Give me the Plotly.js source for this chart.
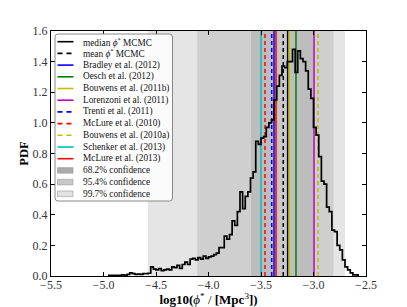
<!DOCTYPE html>
<html>
<head>
<meta charset="utf-8">
<script src="https://cdn.plot.ly/plotly-3.0.1.min.js"></script>
<style>
html,body{margin:0;padding:0;background:#fff;}
#chart{width:407px;height:307px;}
</style>
</head>
<body>
<div id="chart"></div>
<script>
// ---------------- DATA ----------------
// step histogram of log10(phi*) : first bin left edge and bin width
const histStart = -4.95;
const histBinWidth = 0.025;
const pdfValues = [
  0.005, 0.005, 0.005, 0.005, 0.005, 0.008, 0.005, 0.010,
  0.020, 0.015, 0.010, 0.012, 0.010, 0.015, 0.015, 0.018,
  0.060, 0.045, 0.040, 0.048, 0.035, 0.040, 0.045, 0.040,
  0.060, 0.055, 0.070, 0.050, 0.075, 0.090, 0.075, 0.110,
  0.115, 0.105, 0.120, 0.110, 0.130, 0.115, 0.125, 0.130,
  0.140, 0.150, 0.185, 0.185, 0.260, 0.240, 0.270, 0.360,
  0.330, 0.420, 0.550, 0.440, 0.520, 0.550, 0.640, 0.680,
  0.880, 0.860, 0.900, 0.910, 0.970, 1.000, 1.020, 1.150,
  1.240, 1.310, 1.370, 1.360, 1.400, 1.400, 1.480, 1.330,
  1.470, 1.420, 1.400, 1.340, 1.220, 1.160, 0.970, 0.920,
  0.780, 0.620, 0.600, 0.450, 0.420, 0.300, 0.290, 0.200,
  0.170, 0.105, 0.060, 0.040, 0.020, 0.008, 0.008
];

// reference values of log10(phi*)
const refNames = [
  'median <i>ϕ</i><sup>*</sup> MCMC', 'mean <i>ϕ</i><sup>*</sup> MCMC',
  'Bradley et al. (2012)', 'Oesch et al. (2012)', 'Bouwens et al. (2011b)',
  'Lorenzoni et al. (2011)', 'Trenti et al. (2011)', 'McLure et al. (2010)',
  'Bouwens et al. (2010a)', 'Schenker et al. (2013)', 'McLure et al. (2013)'
];
const refValues = [-3.246, -3.288, -3.376, -3.167, -3.231, -2.995, -3.398, -3.462, -2.957, -3.500, -3.357];
const refColors = ['#000000', '#000000', '#0000FF', '#008000', '#BFBF00', '#BF00BF', '#0000FF', '#FF0000', '#BFBF00', '#00BFBF', '#FF0000'];
const refDashed = [false, true, false, false, false, false, true, true, true, false, false];

// confidence intervals
const confNames = ['68.2% confidence', '95.4% confidence', '99.7% confidence'];
const confLow  = [-3.595, -4.107, -4.578];
const confHigh = [-3.000, -2.810, -2.700];
const confColors = ['#BDBDBD', '#CFCFCF', '#E5E5E5'];
const confLegendColors = ['#ABABAB', '#C9C9C9', '#E2E2E2'];
// lighter strip inside the 68.2% band
const innerLow = -3.341, innerHigh = -3.233;

// ---------------- BUILD ----------------
const SERIF = 'Liberation Serif, Times New Roman, serif';
const yMax = 1.6;
const traces = [];

function band(lo, hi, color, name) {
  return {
    type: 'scatter', mode: 'lines', name: name, showlegend: false,
    x: [lo, lo, hi, hi, lo], y: [0, yMax, yMax, 0, 0],
    fill: 'toself', fillcolor: color, line: {width: 0}, hoverinfo: 'skip'
  };
}
for (let i = confNames.length - 1; i >= 0; i--) {
  traces.push(band(confLow[i], confHigh[i], confColors[i], confNames[i]));
}
traces.push(band(innerLow, innerHigh, '#C8C8C8', 'inner'));

refValues.forEach((v, i) => {
  traces.push({
    type: 'scatter', mode: 'lines', name: refNames[i], showlegend: false,
    x: [v, v], y: [0, yMax],
    line: {color: refColors[i], width: 1.5, dash: refDashed[i] ? '4px,3px' : 'solid'},
    hoverinfo: 'skip'
  });
});

// step outline
const hx = [histStart], hy = [0];
pdfValues.forEach((v, i) => { hx.push(histStart + i * histBinWidth); hy.push(v); });
hx.push(histStart + pdfValues.length * histBinWidth); hy.push(0);
traces.push({
  type: 'scatter', mode: 'lines', name: 'PDF', showlegend: false,
  x: hx, y: hy, line: {color: '#000', width: 1.7, shape: 'hv'}, hoverinfo: 'skip'
});

// ---------------- LEGEND (drawn manually) ----------------
const L = 51, R = 366, T = 31, B = 276;
const px = p => (p - L) / (R - L);
const py = p => (B - p) / (B - T);
const shapes = [];
const annotations = [];

(function legendBox() {
  const x0 = px(55), x1 = px(172.5), y0 = py(201), y1 = py(34);
  const rx = 3 / (R - L), ry = 3 / (B - T);
  const path = `M ${x0 + rx},${y1} L ${x1 - rx},${y1} Q ${x1},${y1} ${x1},${y1 - ry} ` +
    `L ${x1},${y0 + ry} Q ${x1},${y0} ${x1 - rx},${y0} L ${x0 + rx},${y0} Q ${x0},${y0} ${x0},${y0 + ry} ` +
    `L ${x0},${y1 - ry} Q ${x0},${y1} ${x0 + rx},${y1} Z`;
  shapes.push({type: 'path', xref: 'paper', yref: 'paper', path: path,
    fillcolor: 'rgba(255,255,255,0.82)', line: {color: '#888', width: 1}});
})();

const rowTop = 41.7, rowStep = 11.7;
const legendItems = [];
refNames.forEach((n, i) => legendItems.push({kind: 'line', i: i, text: n}));
confNames.forEach((n, i) => legendItems.push({kind: 'patch', i: i, text: n}));

legendItems.forEach((it, k) => {
  const yc = rowTop + k * rowStep;
  if (it.kind === 'line') {
    shapes.push({type: 'line', xref: 'paper', yref: 'paper',
      x0: px(57.5), x1: px(73.5), y0: py(yc), y1: py(yc),
      line: {color: refColors[it.i], width: 1.6, dash: refDashed[it.i] ? '5px,4px' : 'solid'}});
  } else {
    shapes.push({type: 'rect', xref: 'paper', yref: 'paper',
      x0: px(57.5), x1: px(73), y0: py(yc + 2.8), y1: py(yc - 2.8),
      fillcolor: confLegendColors[it.i], line: {color: '#999', width: 0.6}});
  }
  annotations.push({xref: 'paper', yref: 'paper', x: px(81), y: py(yc),
    xanchor: 'left', yanchor: 'middle', showarrow: false, text: it.text,
    font: {family: SERIF, size: 9.3, color: '#111'}});
});

// ---------------- LAYOUT ----------------
const axisCommon = {
  showgrid: false, zeroline: false, showline: true, linecolor: '#000', linewidth: 1.2,
  mirror: 'allticks', ticks: 'inside', ticklen: 4, tickwidth: 1, tickcolor: '#000',
  tickfont: {family: SERIF, size: 12, color: '#333'}
};
const layout = {
  width: 407, height: 307,
  margin: {l: L, r: 407 - R, t: T, b: 307 - B, pad: 0},
  paper_bgcolor: '#fff', plot_bgcolor: '#fff',
  showlegend: false,
  font: {family: SERIF, color: '#000'},
  xaxis: Object.assign({}, axisCommon, {
    range: [-5.5, -2.5], tick0: -5.5, dtick: 0.5, tickformat: '.1f',
    ticklabelstandoff: -3, automargin: false,
    title: {text: '<b>log10(</b><i>ϕ</i><sup>*</sup> / <b>[Mpc</b><sup>3</sup><b>])</b>',
      font: {family: SERIF, size: 13, color: '#000'}}
  }),
  yaxis: Object.assign({}, axisCommon, {
    range: [0, yMax], tick0: 0, dtick: 0.2, tickformat: '.1f', automargin: true,
    title: {text: '<b>PDF</b>', font: {family: SERIF, size: 12.5, color: '#000'}, standoff: 1}
  }),
  shapes: shapes,
  annotations: annotations
};

Plotly.newPlot('chart', traces, layout, {displayModeBar: false, staticPlot: true});
</script>
</body>
</html>
